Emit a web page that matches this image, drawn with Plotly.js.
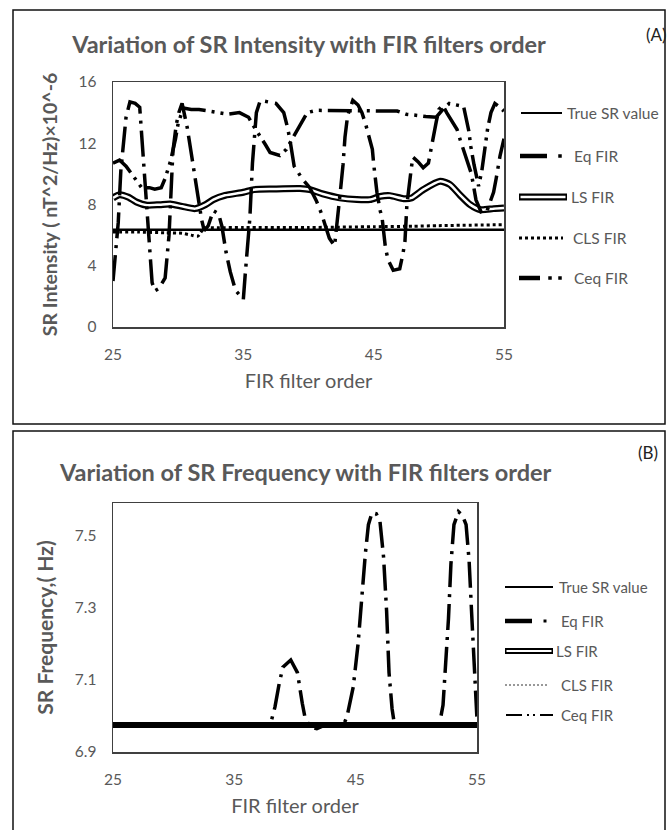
<!DOCTYPE html>
<html><head><meta charset="utf-8">
<script src="https://cdn.plot.ly/plotly-3.0.1.min.js"></script>
<style>html,body{margin:0;padding:0;background:#fff;}#chart{width:667px;height:830px;}</style>
</head><body><div id="chart"></div>
<script>
// ---------- shared ----------
const xTicks = [25, 35, 45, 55];
const intensityTicks = [0, 4, 8, 12, 16];
const freqTicks = [6.9, 7.1, 7.3, 7.5];
const seriesNames = ['True SR value', 'Eq FIR', 'LS FIR', 'CLS FIR', 'Ceq FIR'];

// ---------- Panel A : SR intensity ----------
const aTrueX = [25, 55];
const aTrueY = [6.35, 6.35];

const aEqX = [25.0,25.2,25.4,25.6,25.8,26.0,26.3,26.7,27.05,27.2,27.35,27.5,27.62,27.75,27.9,28.0,28.2,28.5,29.0,29.1,29.3,29.5,29.6,29.85,30.05,30.3,30.7,31.05,31.35,31.6,31.8,32.0,32.3,32.7,33.1,33.35,33.67,34.0,34.4,34.7,35.0,35.15,35.3,35.5,35.7,35.85,36.0,36.3,36.8,37.5,38.1,38.4,38.6,38.75,38.9,39.5,40.1,40.6,41.0,41.3,41.6,42.0,42.25,42.45,42.65,42.8,43.0,43.4,43.8,44.1,44.4,44.65,44.9,45.0,45.25,45.5,45.65,45.9,46.1,46.5,47.0,47.25,47.4,47.55,47.7,47.85,48.0,48.4,48.8,49.2,49.4,49.6,49.8,50.0,50.3,50.6,51.0,51.4,51.65,51.9,52.1,52.5,52.85,53.3,53.7,54.0,54.2,54.4,54.7,55.0];
const aEqY = [3.0,4.9,6.8,10.2,12.0,13.7,14.7,14.6,14.35,12.6,10.8,8.9,7.3,5.5,3.7,2.9,2.35,2.5,3.2,4.2,6.0,9.7,11.5,13.2,14.0,14.6,13.0,11.1,9.5,8.0,7.0,6.3,6.6,7.6,7.4,6.6,4.9,3.6,2.4,2.1,1.8,3.5,5.3,7.1,10.7,12.5,14.0,14.8,14.7,14.6,14.0,13.0,12.1,11.3,10.5,9.7,9.1,8.25,7.4,6.6,5.8,5.3,7.1,8.9,10.6,12.4,13.8,14.8,14.5,14.0,13.2,12.4,11.6,10.65,8.8,7.6,7.1,5.2,4.4,3.7,3.8,4.8,5.6,8.0,9.3,10.1,11.1,10.8,10.4,10.7,11.6,12.6,13.4,14.2,14.5,14.0,13.4,12.9,12.2,11.6,11.0,10.0,8.3,7.4,7.6,8.3,8.8,9.7,11.2,12.3];

const aLsX = [25.0,25.5,26.2,26.8,27.6,28.6,29.4,30.3,31.3,32.1,32.7,33.6,35.0,35.8,37.3,39.35,40.1,41.1,42.4,43.7,44.72,45.5,46.25,47.3,47.9,48.8,50.1,50.86,51.6,52.4,53.2,54.2,55.0];
const aLsY = [8.43,8.64,8.47,8.16,7.95,7.99,8.03,7.88,7.73,7.99,8.32,8.6,8.8,8.97,9.01,9.04,8.97,8.69,8.43,8.32,8.32,8.53,8.58,8.38,8.43,8.97,9.52,9.3,8.64,7.99,7.66,7.73,7.77];

const aClsX = [25, 27, 29, 30.3, 31.0, 31.5, 32.0, 33, 35, 40, 45, 48, 50, 55];
const aClsY = [6.2, 6.2, 6.15, 6.12, 6.0, 5.93, 6.45, 6.48, 6.5, 6.5, 6.55, 6.58, 6.62, 6.68];

const aCeqX = [25.0,25.5,26.0,26.4,26.8,27.2,27.8,28.2,28.7,29.0,29.4,29.6,29.8,30.0,30.4,31.0,31.6,32.4,33.0,33.8,34.7,35.4,35.8,36.2,36.7,37.05,37.8,38.3,38.7,39.15,39.5,39.9,40.6,41.5,42.2,43.0,44.0,45.0,46.0,46.8,47.5,48.3,49.0,49.8,50.3,50.8,51.3,51.9,52.3,52.45,52.7,53.05,53.3,53.5,53.75,54.0,54.3,54.6,55.0];
const aCeqY = [10.7,10.9,10.5,10.0,9.6,9.1,9.1,9.0,9.1,9.7,10.8,11.5,12.3,13.3,14.3,14.2,14.2,14.1,14.0,13.9,14.0,13.7,13.1,12.6,11.9,11.4,11.2,11.6,12.2,12.8,13.3,14.0,14.15,14.15,14.15,14.1,14.1,14.1,14.1,14.1,13.9,13.8,13.75,13.7,14.2,14.6,14.5,14.4,12.8,11.8,10.6,9.2,10.2,11.5,13.0,14.0,14.6,14.4,14.1];

// ---------- Panel B : SR frequency ----------
const bTrueX = [25, 55];
const bTrueY = [6.975, 6.975];
const bLsX = [25, 55];
const bLsY = [6.975, 6.975];
const bClsX = [25, 55];
const bClsY = [6.975, 6.975];
const bCeqX = [25, 55];
const bCeqY = [6.975, 6.975];
const bEqX = [25,30,35,37.5,38.0,38.35,38.7,39.0,39.65,40.2,40.6,40.8,41.2,41.8,42.5,44.0,44.3,44.8,45.2,45.5,45.8,46.05,46.35,46.7,47.0,47.3,47.55,47.75,48.0,48.2,50,51.9,52.2,52.45,52.65,52.85,53.1,53.47,53.8,54.1,54.35,54.55,54.75,54.93,55];
const bEqY = [6.975,6.975,6.975,6.975,6.98,7.025,7.09,7.135,7.155,7.12,7.035,7.0,6.97,6.965,6.975,6.975,7.0,7.08,7.2,7.33,7.45,7.53,7.563,7.56,7.54,7.44,7.29,7.12,7.02,6.975,6.975,6.975,7.03,7.15,7.27,7.42,7.53,7.566,7.556,7.53,7.43,7.29,7.14,7.02,6.99];

// ---------- styling ----------
const W = 667, H = 830;
const FONT = 'Lato, "Open Sans", sans-serif';
const GREY = '#595959';
const fx = p => p / W;
const fy = p => 1 - p / H;

const EQ_DASH = '26px,7px,3px,7px';
const CEQ_DASH = '24px,6px,3px,6px,3px,6px';

function ln(x, y, xa, ya, color, width, dash, shape) {
  return {x: x, y: y, xaxis: xa, yaxis: ya, type: 'scatter', mode: 'lines', hoverinfo: 'skip',
    line: {color: color, width: width, dash: dash || 'solid', shape: shape || 'linear', smoothing: 0.6},
    showlegend: false};
}

const traces = [
  // panel A
  ln(aTrueX, aTrueY, 'x', 'y', '#000', 2.5),
  ln(aClsX, aClsY, 'x', 'y', '#000', 3, '3px,3px', 'spline'),
  ln(aLsX, aLsY, 'x', 'y', '#000', 7, 'solid', 'spline'),
  ln(aLsX, aLsY, 'x', 'y', '#fff', 2.5, 'solid', 'spline'),
  ln(aEqX, aEqY, 'x', 'y', '#000', 3.5, EQ_DASH),
  ln(aCeqX, aCeqY, 'x', 'y', '#000', 3.5, CEQ_DASH),
  // panel B
  ln(bEqX, bEqY, 'x2', 'y2', '#000', 3.5, EQ_DASH),
  ln(bCeqX, bCeqY, 'x2', 'y2', '#000', 2, CEQ_DASH),
  ln(bLsX, bLsY, 'x2', 'y2', '#000', 6),
  ln(bLsX, bLsY, 'x2', 'y2', '#fff', 2),
  ln(bTrueX, bTrueY, 'x2', 'y2', '#000', 2.5),
  ln(bClsX, bClsY, 'x2', 'y2', '#000', 1.2, '2px,2px'),
];
traces[0].name = seriesNames[0];
traces[1].name = seriesNames[3];
traces[2].name = seriesNames[2];
traces[4].name = seriesNames[1];
traces[5].name = seriesNames[4];

const tickFont = {family: FONT, size: 15.5, color: GREY};
const axisCommon = {
  showline: true, mirror: true, linecolor: '#404040', linewidth: 1.5,
  showgrid: false, zeroline: false, ticks: '', fixedrange: true,
  tickfont: tickFont, automargin: false
};

// ---------- legend (drawn as shapes + annotations) ----------
const shapes = [];
const annotations = [];
function hl(x0, x1, y, width, color, dash) {
  shapes.push({type: 'line', xref: 'paper', yref: 'paper', x0: fx(x0), x1: fx(x1), y0: fy(y), y1: fy(y),
    line: {color: color || '#000', width: width, dash: dash || 'solid'}});
}
function dot(x, y, s) {
  shapes.push({type: 'rect', xref: 'paper', yref: 'paper', x0: fx(x - s / 2), x1: fx(x + s / 2),
    y0: fy(y + s / 2), y1: fy(y - s / 2), fillcolor: '#000', line: {width: 0}});
}
function label(text, x, y, size) {
  annotations.push({text: text, xref: 'paper', yref: 'paper', x: fx(x), y: fy(y), xanchor: 'left',
    yanchor: 'middle', showarrow: false, font: {family: FONT, size: size, color: GREY}});
}

// outer frames
shapes.push({type: 'rect', xref: 'paper', yref: 'paper', x0: fx(13), x1: fx(665), y0: fy(424), y1: fy(10),
  line: {color: '#111', width: 1.5}});
shapes.push({type: 'rect', xref: 'paper', yref: 'paper', x0: fx(13), x1: fx(665), y0: fy(840), y1: fy(431),
  line: {color: '#111', width: 1.5}});

// legend A
hl(521, 562, 113, 2); label(seriesNames[0], 565, 113, 15.5);
hl(520, 547, 156, 4.5); dot(560, 156, 3.5); label(seriesNames[1], 572, 156, 15.5);
hl(519, 567, 197, 7); hl(520.5, 565.5, 197, 2.5, '#fff'); label(seriesNames[2], 569, 197, 15.5);
hl(519, 563, 238, 3, '#000', '3px,3px'); label(seriesNames[3], 571, 238, 15.5);
hl(519, 540, 278, 4.5); dot(550, 278, 3.5); dot(560, 278, 3.5); label(seriesNames[4], 572, 278, 15.5);

// legend B
hl(505, 553, 587, 2); label(seriesNames[0], 557, 587, 15);
hl(505, 532, 621, 4.5); dot(545, 621, 3); label(seriesNames[1], 559, 621, 15);
hl(505, 553, 651, 6); hl(506.5, 551.5, 651, 2.2, '#fff'); label(seriesNames[2], 554, 651, 15);
hl(505, 548, 685, 1.2, '#333', '2px,2px'); label(seriesNames[3], 559, 685, 15);
hl(506, 522, 715, 2); dot(528, 715, 2); dot(534, 715, 2); hl(540, 553, 715, 2); label(seriesNames[4], 559, 715, 15);

// panel tags and second title
annotations.push({text: '(A)', xref: 'paper', yref: 'paper', x: fx(656), y: fy(35), xanchor: 'center', yanchor: 'middle',
  showarrow: false, font: {family: FONT, size: 17, color: '#222'}});
annotations.push({text: '(B)', xref: 'paper', yref: 'paper', x: fx(648), y: fy(452), xanchor: 'center', yanchor: 'middle',
  showarrow: false, font: {family: FONT, size: 17, color: '#222'}});
annotations.push({text: '<b>Variation of SR Frequency with FIR filters order</b>', xref: 'paper', yref: 'paper',
  x: fx(305), y: fy(472), xanchor: 'center', yanchor: 'middle', showarrow: false,
  font: {family: FONT, size: 23.5, color: GREY}});

const layout = {
  width: W, height: H, margin: {l: 0, r: 0, t: 0, b: 0},
  paper_bgcolor: '#fff', plot_bgcolor: '#fff', showlegend: false,
  title: {text: '<b>Variation of SR Intensity with FIR filters order</b>', x: fx(309), y: fy(45),
    xanchor: 'center', yanchor: 'middle', xref: 'paper', yref: 'paper',
    font: {family: FONT, size: 23.5, color: GREY}},
  xaxis: Object.assign({}, axisCommon, {domain: [fx(113), fx(504)], range: [25, 55], anchor: 'y',
    tickvals: xTicks, ticklabelstandoff: 13,
    title: {text: 'FIR filter order', standoff: 12, font: {family: FONT, size: 20, color: GREY}}}),
  yaxis: Object.assign({}, axisCommon, {domain: [fy(327), fy(82)], range: [0, 16], anchor: 'x',
    tickvals: intensityTicks, ticklabelstandoff: 12,
    title: {text: '<b>SR Intensity ( nT^2/Hz)×10^-6</b>', standoff: 15, font: {family: FONT, size: 19.5, color: GREY}}}),
  xaxis2: Object.assign({}, axisCommon, {domain: [fx(113), fx(477)], range: [25, 55], anchor: 'y2',
    tickvals: xTicks, ticklabelstandoff: 13,
    title: {text: 'FIR filter order', standoff: 12, font: {family: FONT, size: 20, color: GREY}}}),
  yaxis2: Object.assign({}, axisCommon, {domain: [fy(752), fy(503)], range: [6.9, 7.59], anchor: 'x2',
    tickvals: freqTicks, tickformat: '.1f', ticklabelstandoff: 12,
    title: {text: '<b>SR Frequency,( Hz)</b>', standoff: 15, font: {family: FONT, size: 21, color: GREY}}}),
  shapes: shapes,
  annotations: annotations
};

Plotly.newPlot('chart', traces, layout, {displayModeBar: false, staticPlot: true});
</script>
</body></html>
